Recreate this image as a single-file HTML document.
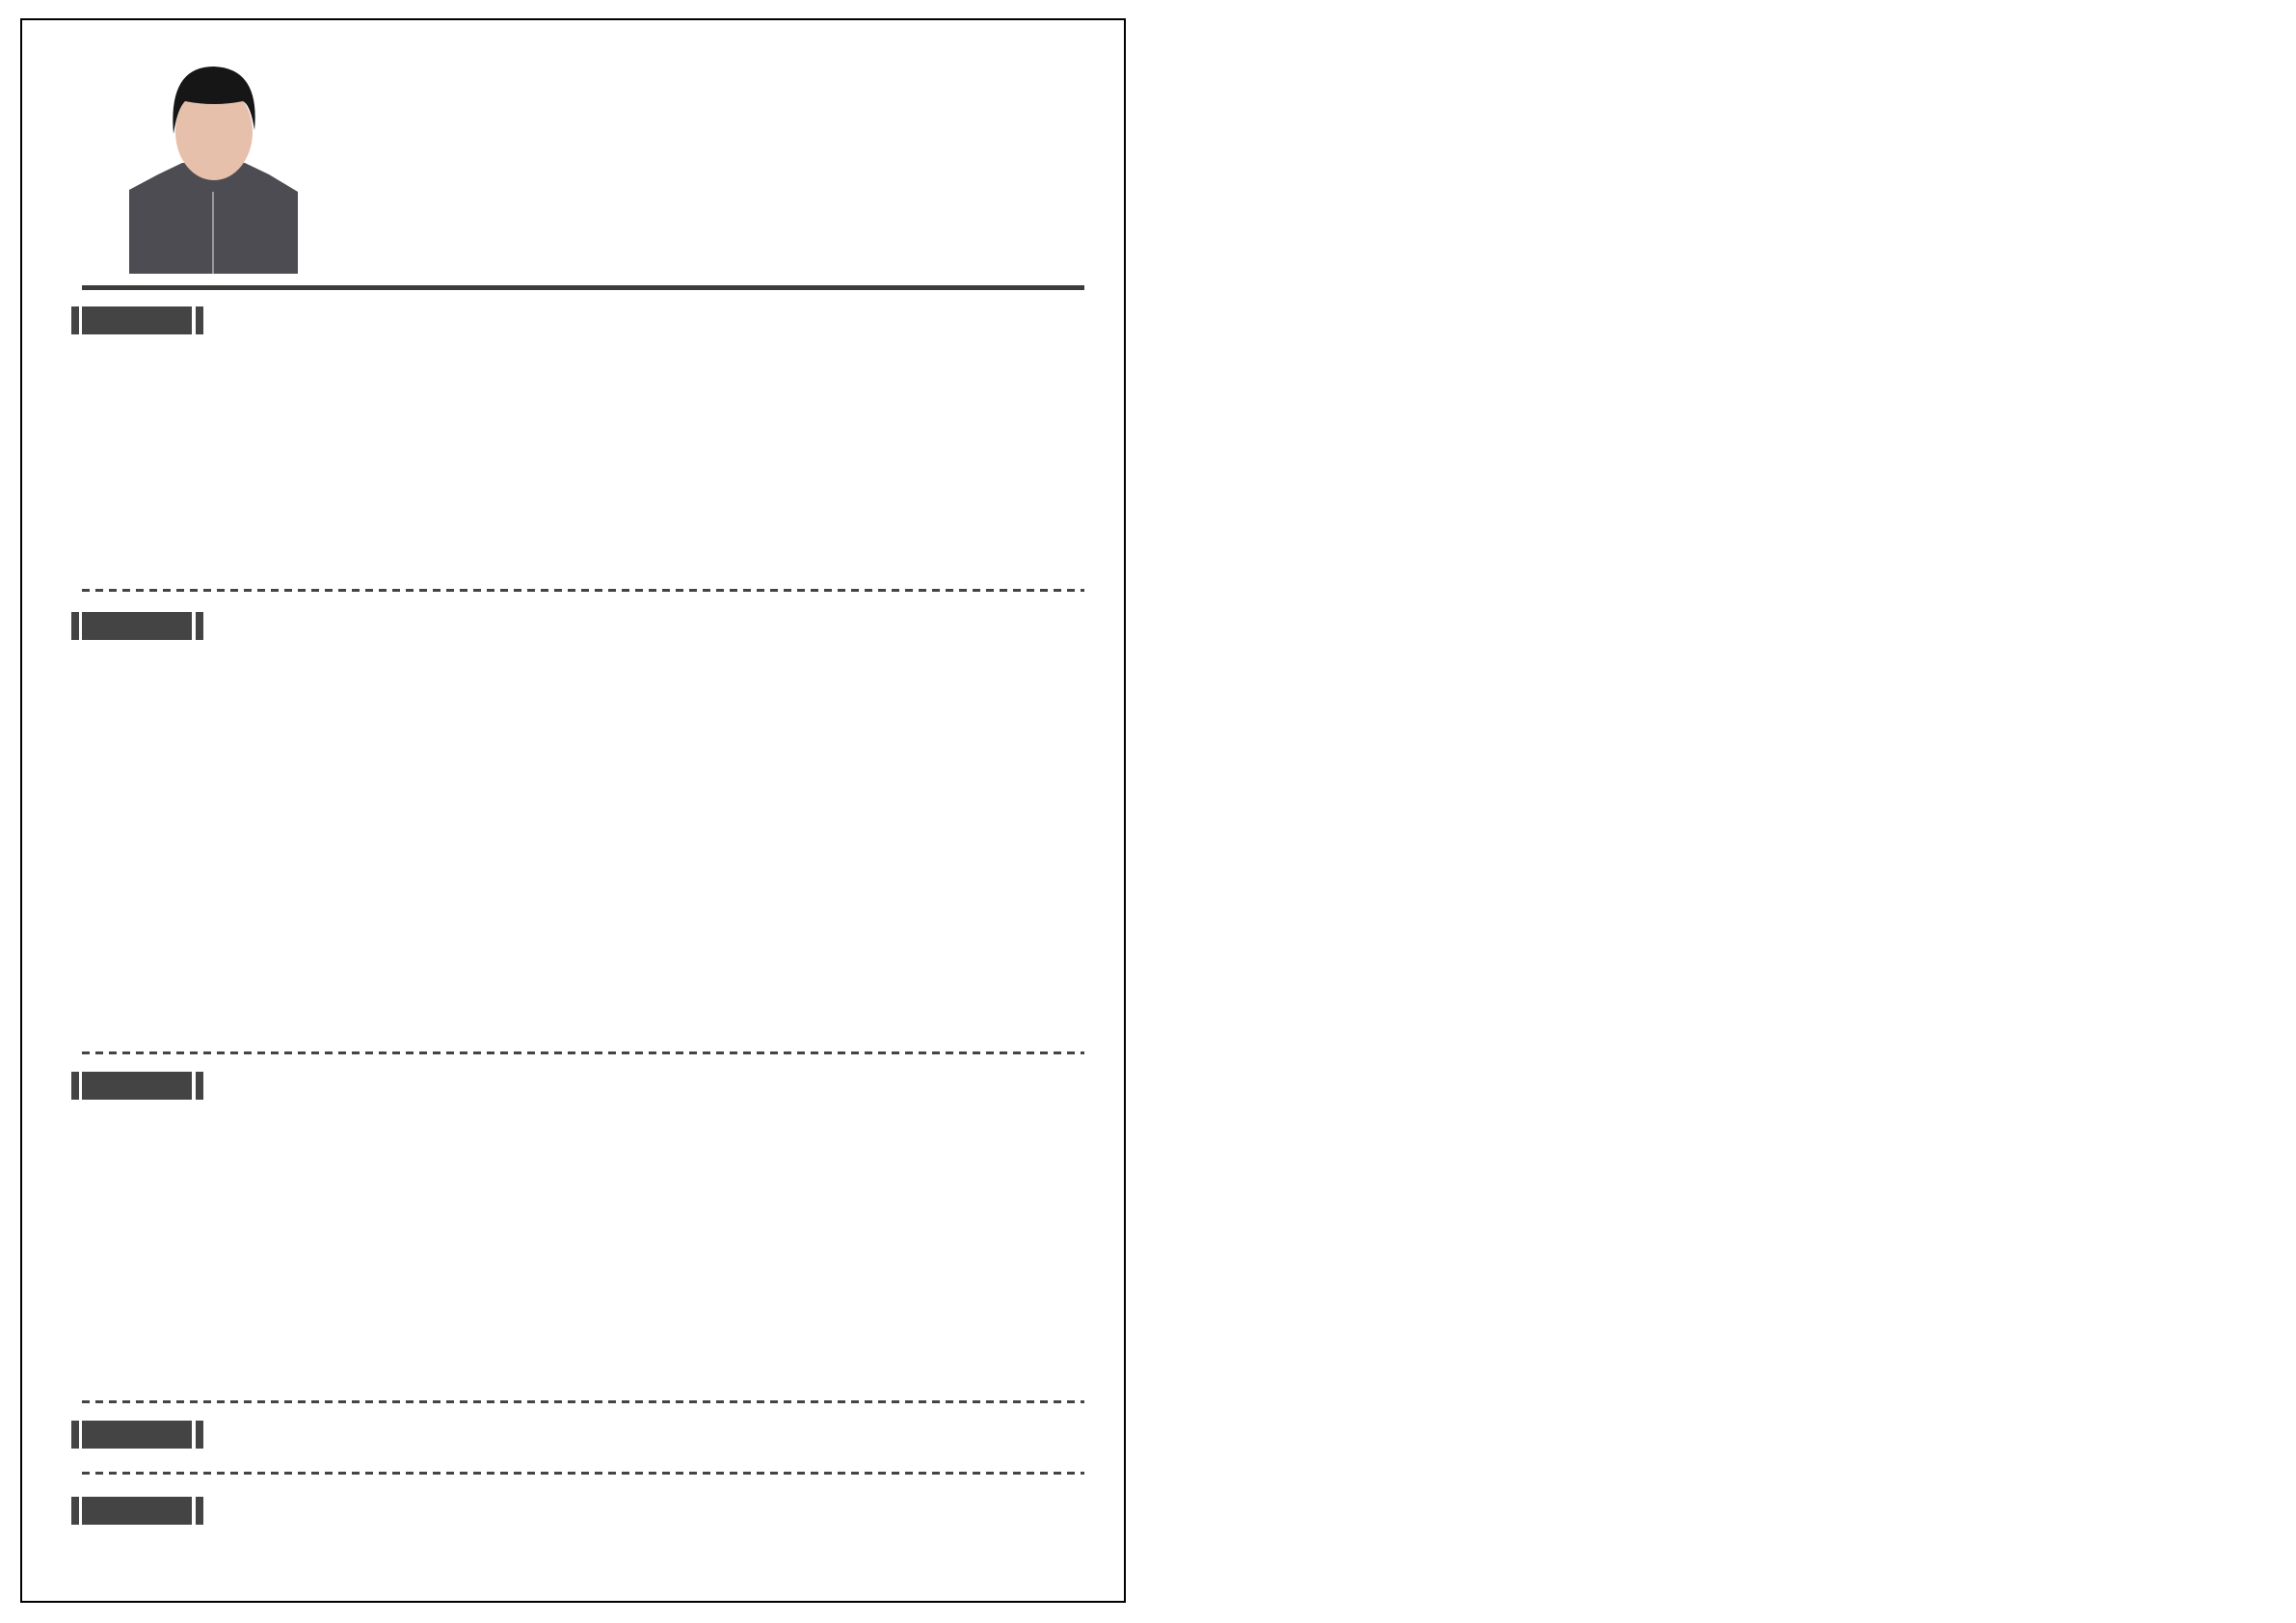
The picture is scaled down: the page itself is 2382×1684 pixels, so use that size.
<!DOCTYPE html>
<html><head><meta charset="utf-8"><style>
html,body{margin:0;padding:0;background:#fff;width:2382px;height:1684px;overflow:hidden;position:relative;font-family:"Liberation Sans",sans-serif}
.a{position:absolute}
.frame{left:21px;top:19px;width:1143px;height:1640px;border:2px solid #000}
.dash{left:85px;width:1040px;height:3px;background:repeating-linear-gradient(90deg,#444 0 8px,transparent 8px 14px)}
.lab{left:74px;width:137px;height:29px}
.lab i{position:absolute;top:0;height:100%;background:#444}
</style></head><body>
<div class="a frame"></div>
<div class="a" style="left:134px;top:69px;width:175px;height:215px;overflow:hidden;background:#fff">
<svg width="175" height="215" viewBox="0 0 175 215">
<path d="M0 128 L30 112 L55 100 L120 100 L145 112 L175 130 L175 215 L0 215Z" fill="#4d4c52"/>
<ellipse cx="88" cy="68" rx="40" ry="50" fill="#e6c0ab"/>
<path d="M46 70 Q40 0 88 0 Q136 2 130 66 Q126 40 118 36 Q88 42 58 36 Q50 44 46 70Z" fill="#161616"/>
<rect x="86" y="130" width="2" height="85" fill="#999"/>
</svg></div>
<div class="a" style="left:85px;top:296px;width:1040px;height:5px;background:#3c3c3c"></div>
<div class="a lab" style="top:318px"><i style="left:0;width:8px"></i><i style="left:11px;width:114px"></i><i style="left:129px;width:8px"></i></div>
<div class="a dash" style="top:611px"></div>
<div class="a lab" style="top:635px"><i style="left:0;width:8px"></i><i style="left:11px;width:114px"></i><i style="left:129px;width:8px"></i></div>
<div class="a dash" style="top:1091px"></div>
<div class="a lab" style="top:1112px"><i style="left:0;width:8px"></i><i style="left:11px;width:114px"></i><i style="left:129px;width:8px"></i></div>
<div class="a dash" style="top:1453px"></div>
<div class="a lab" style="top:1474px"><i style="left:0;width:8px"></i><i style="left:11px;width:114px"></i><i style="left:129px;width:8px"></i></div>
<div class="a dash" style="top:1527px"></div>
<div class="a lab" style="top:1553px"><i style="left:0;width:8px"></i><i style="left:11px;width:114px"></i><i style="left:129px;width:8px"></i></div>
</body></html>
